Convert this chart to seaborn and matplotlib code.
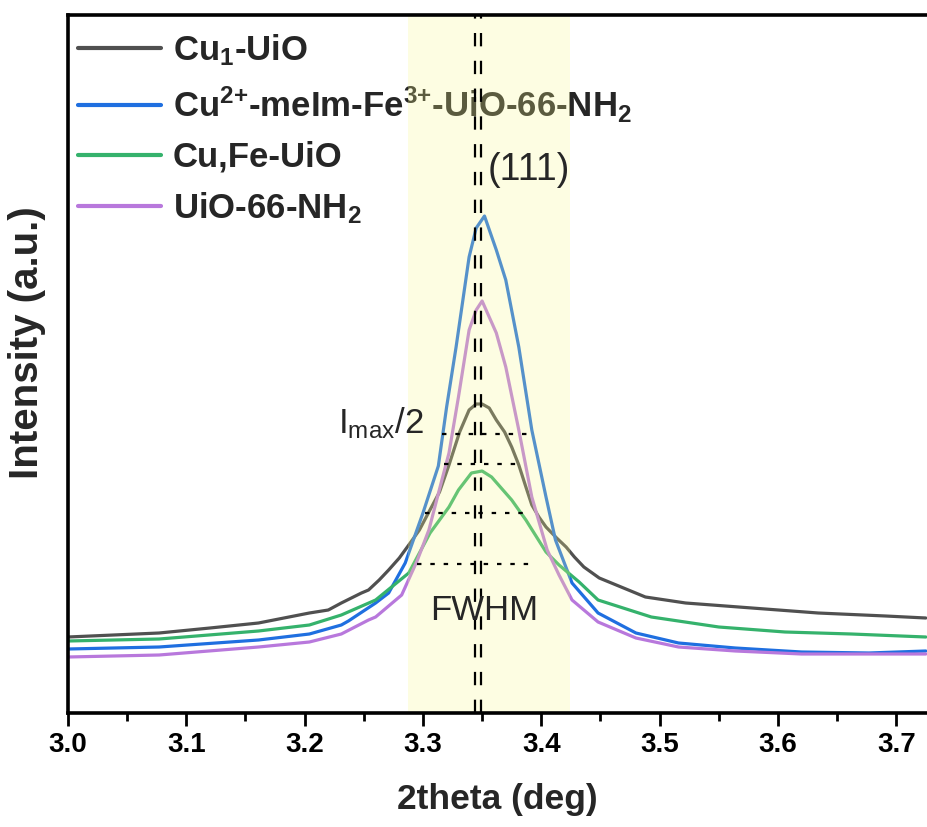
import numpy as np
import pandas as pd
import matplotlib
matplotlib.use("Agg")
import matplotlib.pyplot as plt
import seaborn as sns

# ---------------- data ----------------
labels = [r"Cu$_{1}$-UiO",
          r"Cu$^{2{+}}$-meIm-Fe$^{3{+}}$-UiO-66-NH$_{2}$",
          r"Cu,Fe-UiO",
          r"UiO-66-NH$_{2}$"]

gray_x = [3.000, 3.077, 3.120, 3.161, 3.204, 3.220, 3.231, 3.248, 3.254, 3.263, 3.271,
          3.280, 3.288, 3.297, 3.305, 3.314, 3.322, 3.331, 3.339, 3.345, 3.350, 3.356,
          3.362, 3.369, 3.375, 3.381, 3.387, 3.392, 3.398, 3.404, 3.413, 3.421, 3.428,
          3.436, 3.449, 3.488, 3.522, 3.578, 3.634, 3.691, 3.725]
gray_y = [76, 80, 85, 90, 100, 103, 110, 120, 123, 133, 143,
          155, 168, 183, 201, 221, 248, 281, 303, 309, 309, 305,
          293, 281, 266, 248, 226, 208, 196, 186, 175, 166, 156,
          146, 135, 116, 110, 105, 100, 97, 95]

blue_x = [3.000, 3.077, 3.161, 3.204, 3.231, 3.237, 3.260, 3.271, 3.285, 3.300, 3.313,
          3.320, 3.328, 3.339, 3.345, 3.352, 3.362, 3.370, 3.381, 3.392, 3.404, 3.412,
          3.426, 3.448, 3.480, 3.516, 3.564, 3.620, 3.677, 3.725]
blue_y = [64, 66, 73, 79, 88, 92, 110, 120, 150, 200, 247,
          306, 366, 456, 485, 497, 463, 433, 366, 283, 216, 173,
          130, 100, 80, 70, 65, 61, 60, 62]

green_x = [3.000, 3.077, 3.161, 3.204, 3.231, 3.260, 3.288, 3.306, 3.322, 3.330, 3.341,
           3.350, 3.358, 3.375, 3.387, 3.404, 3.415, 3.432, 3.448, 3.493, 3.550, 3.606,
           3.662, 3.725]
green_y = [72, 74, 82, 88, 98, 113, 140, 180, 206, 223, 240,
           242, 236, 213, 193, 161, 148, 131, 113, 96, 86, 81,
           79, 76]

purple_x = [3.000, 3.077, 3.161, 3.204, 3.231, 3.254, 3.260, 3.282, 3.295, 3.305, 3.316,
            3.322, 3.330, 3.339, 3.345, 3.350, 3.362, 3.370, 3.381, 3.392, 3.405, 3.415,
            3.426, 3.448, 3.480, 3.516, 3.564, 3.620, 3.677, 3.725]
purple_y = [56, 58, 66, 71, 79, 93, 96, 118, 152, 183, 233,
            260, 316, 383, 403, 412, 380, 346, 283, 216, 163, 138,
            113, 91, 75, 66, 62, 59, 59, 59]

colors = ["#505050", "#1f6fe0", "#35b26c", "#b878dc"]

# half-maximum guide lines
fwhm_levels = [279, 249, 200, 149]
fwhm_left = [3.316, 3.318, 3.302, 3.295]
fwhm_right = [3.388, 3.379, 3.391, 3.395]

peak_lines = [3.3437, 3.3493]
span_range = (3.287, 3.424)

xticks = [3.0, 3.1, 3.2, 3.3, 3.4, 3.5, 3.6, 3.7]
minor_ticks = [3.05, 3.15, 3.25, 3.35, 3.45, 3.55, 3.65]

# ---------------- styling ----------------
sns.set_theme(style="ticks")
plt.rcParams["font.family"] = ["Liberation Sans", "DejaVu Sans"]
plt.rcParams["mathtext.fontset"] = "custom"
plt.rcParams["mathtext.rm"] = "Liberation Sans:bold"
plt.rcParams["mathtext.it"] = "Liberation Sans:bold"
plt.rcParams["mathtext.bf"] = "Liberation Sans:bold"
plt.rcParams["mathtext.sf"] = "Liberation Sans"

fig = plt.figure(figsize=(9.27, 8.27), dpi=100)
ax = fig.add_axes([68 / 927, 114 / 827, 859 / 927, 698 / 827])

series = [(gray_x, gray_y), (blue_x, blue_y), (green_x, green_y), (purple_x, purple_y)]
for (xs, ys), lab, col in zip(series, labels, colors):
    df = pd.DataFrame({"x": xs, "y": ys})
    sns.lineplot(data=df, x="x", y="y", ax=ax, color=col, lw=2.3, label=lab,
                 sort=False, estimator=None, zorder=1.5)

# highlight band (semi-transparent, drawn over curves & legend)
ax.axvspan(span_range[0], span_range[1], color="#FAFA8C", alpha=0.25, lw=0, zorder=2.4)

# peak position lines
for xp in peak_lines:
    ax.axvline(xp, color="black", lw=1.6, ls=(0, (6, 6.5)), zorder=4)

# FWHM guides
ax.hlines(fwhm_levels, fwhm_left, fwhm_right, colors="black", lw=1.6,
          linestyles=[(0, (2, 4))], zorder=4)

ax.text(3.355, 543, "(111)", fontsize=27, ha="left", va="center", zorder=5)
ax.text(3.228, 280, r"$\mathsf{I_{max}/2}$", fontsize=25, ha="left", va="baseline", zorder=5)
ax.text(3.352, 93, "FWHM", fontsize=25, ha="center", va="baseline", zorder=5)

ax.set_xticks(xticks)
ax.set_xticklabels([f"{t:.1f}" for t in xticks], fontsize=20, fontweight="bold")
ax.set_xticks(minor_ticks, minor=True)
ax.set_yticks([])
ax.set_xlim(3.0, 3.726)
ax.set_ylim(0, 698)
ax.tick_params(axis="x", which="major", direction="out", length=9, width=2, pad=5, colors="black")
ax.tick_params(axis="x", which="minor", direction="out", length=6, width=2, colors="black")
for side in ["left", "bottom", "top"]:
    ax.spines[side].set_linewidth(2.6)
    ax.spines[side].set_color("black")
ax.spines["right"].set_visible(False)

ax.set_xlabel("2theta (deg)", fontsize=25.5, fontweight="bold", labelpad=18)
ax.set_ylabel("Intensity (a.u.)", fontsize=29, fontweight="bold")
ax.yaxis.set_label_coords(-0.026, 0.530)

leg = ax.legend(loc="upper left", bbox_to_anchor=(0.0116, 0.975), frameon=False,
                prop={"size": 25, "weight": "bold"}, handlelength=2.4,
                handletextpad=0.33, labelspacing=0.47, borderpad=0, borderaxespad=0)
for h in leg.get_lines():
    h.set_linewidth(3)
leg.set_zorder(1.6)

fig.savefig("out.png", dpi=100)
